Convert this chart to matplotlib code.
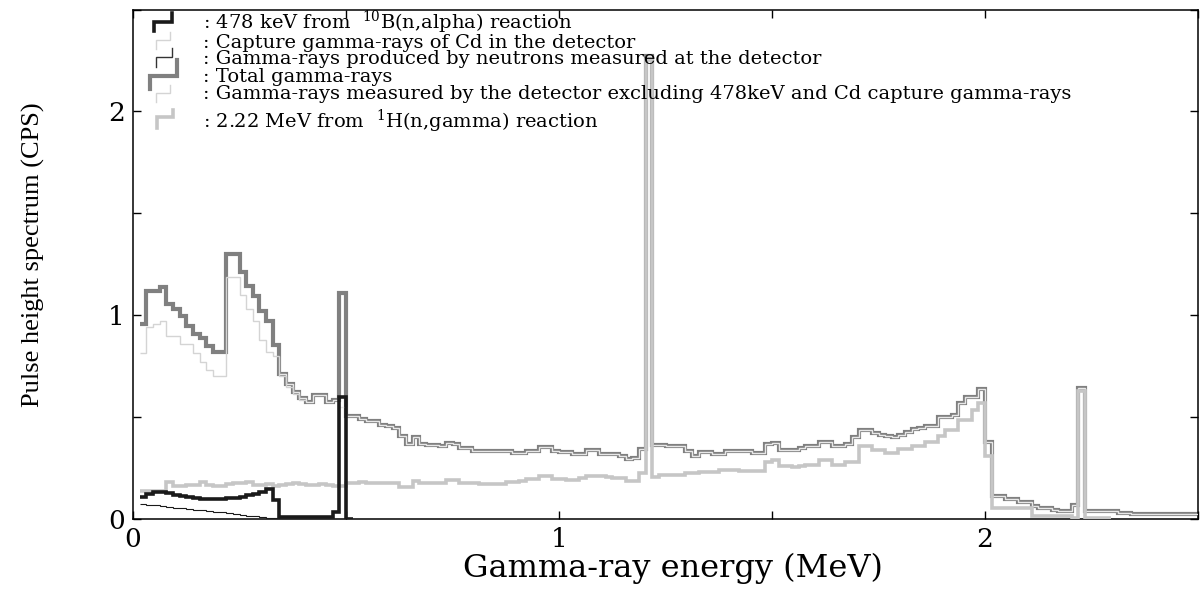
import numpy as np
import matplotlib
matplotlib.use('Agg')
import matplotlib.pyplot as plt
from matplotlib.lines import Line2D

plt.rcParams['font.family'] = ['DejaVu Serif']
plt.rcParams['mathtext.fontset'] = 'dejavuserif'

# =============================================================================
# data: counts per channel (CPS), channel width 1/64 MeV, series start at ch 1
# =============================================================================
BIN_WIDTH = 1.0 / 64
FIRST_BIN = 1

# total gamma-rays (thick gray), channels 1..159
total_gamma = [
    0.955, 1.12, 1.12, 1.14, 1.055, 1.03, 0.995, 0.947, 0.91, 0.89,
    0.847, 0.82, 0.82, 1.30, 1.30, 1.21, 1.145, 1.095, 1.02, 0.97,
    0.856, 0.71, 0.66, 0.625, 0.594, 0.574, 0.61, 0.61, 0.574, 0.584,
    1.11, 0.507, 0.507, 0.49, 0.479, 0.479, 0.463, 0.455, 0.448, 0.405,
    0.369, 0.40, 0.366, 0.364, 0.362, 0.36, 0.374, 0.37, 0.35, 0.35,
    0.335, 0.332, 0.332, 0.333, 0.334, 0.332, 0.325, 0.325, 0.335, 0.335,
    0.351, 0.351, 0.332, 0.327, 0.327, 0.32, 0.32, 0.34, 0.34, 0.32,
    0.32, 0.32, 0.307, 0.295, 0.30, 0.345, 2.27, 0.364, 0.364, 0.36,
    0.356, 0.356, 0.332, 0.31, 0.327, 0.327, 0.32, 0.32, 0.332, 0.332,
    0.335, 0.335, 0.322, 0.322, 0.37, 0.373, 0.34, 0.34, 0.34, 0.35,
    0.36, 0.36, 0.38, 0.38, 0.356, 0.356, 0.369, 0.40, 0.438, 0.438,
    0.42, 0.414, 0.405, 0.40, 0.414, 0.425, 0.44, 0.448, 0.458, 0.458,
    0.502, 0.502, 0.512, 0.567, 0.60, 0.60, 0.64, 0.38, 0.113, 0.113,
    0.098, 0.098, 0.081, 0.081, 0.064, 0.056, 0.056, 0.045, 0.04, 0.04,
    0.069, 0.645, 0.04, 0.04, 0.04, 0.04, 0.04, 0.03, 0.03, 0.025,
    0.025, 0.025, 0.025, 0.025, 0.025, 0.025, 0.025, 0.025, 0.025,
]

# 2.22 MeV from 1H(n,gamma) (thick light gray), channels 1..146
h_capture = [
    0.135, 0.135, 0.135, 0.135, 0.184, 0.16, 0.16, 0.165, 0.165, 0.184,
    0.165, 0.16, 0.16, 0.17, 0.175, 0.175, 0.18, 0.165, 0.165, 0.17,
    0.16, 0.165, 0.17, 0.175, 0.17, 0.165, 0.165, 0.17, 0.165, 0.16,
    0.16, 0.175, 0.179, 0.18, 0.177, 0.175, 0.175, 0.177, 0.177, 0.159,
    0.159, 0.187, 0.177, 0.177, 0.175, 0.175, 0.192, 0.192, 0.179, 0.179,
    0.179, 0.173, 0.173, 0.173, 0.173, 0.18, 0.182, 0.185, 0.195, 0.197,
    0.212, 0.212, 0.197, 0.195, 0.192, 0.19, 0.20, 0.212, 0.212, 0.21,
    0.205, 0.20, 0.20, 0.187, 0.187, 0.228, 2.25, 0.208, 0.215, 0.217,
    0.217, 0.217, 0.228, 0.228, 0.233, 0.233, 0.233, 0.241, 0.241, 0.241,
    0.237, 0.237, 0.237, 0.237, 0.282, 0.29, 0.258, 0.258, 0.255, 0.26,
    0.265, 0.265, 0.29, 0.29, 0.265, 0.265, 0.282, 0.282, 0.356, 0.356,
    0.34, 0.34, 0.325, 0.325, 0.345, 0.345, 0.36, 0.36, 0.38, 0.38,
    0.405, 0.435, 0.435, 0.488, 0.488, 0.537, 0.571, 0.31, 0.056, 0.056,
    0.056, 0.056, 0.056, 0.056, 0.017, 0.017, 0.017, 0.017, 0.017, 0.017,
    0.004, 0.63, 0.004, 0.004, 0.004, 0.004,
]

# capture gamma-rays of Cd in the detector (thin light), channels 1..25
cd_capture = [
    0.813, 0.94, 0.955, 0.97, 0.898, 0.898, 0.857, 0.857, 0.816, 0.768,
    0.73, 0.70, 0.70, 1.185, 1.185, 1.10, 1.03, 0.97, 0.88, 0.817,
    0.80, 0.70, 0.65, 0.615, 0.585,
]

# 478 keV from 10B(n,alpha) (thick black), channels 1..32
b10_peak = [
    0.11, 0.125, 0.132, 0.134, 0.128, 0.12, 0.115, 0.11, 0.105, 0.10,
    0.10, 0.10, 0.10, 0.102, 0.105, 0.11, 0.118, 0.125, 0.134, 0.145,
    0.092, 0.012, 0.01, 0.01, 0.01, 0.01, 0.01, 0.01, 0.01, 0.032,
    0.60, 0.0,
]

# gamma-rays produced by neutrons (thin dark), channels 1..22
neutron_gamma = [
    0.074, 0.071, 0.067, 0.063, 0.06, 0.056, 0.052, 0.049, 0.045, 0.042,
    0.038, 0.035, 0.032, 0.029, 0.025, 0.021, 0.017, 0.013, 0.01, 0.007,
    0.004, 0.002,
]

# excluding 478 keV and Cd: follows the total from channel 22 on,
# except under the 478 keV peak
EXCL_START = 22
B10_PEAK_BIN = 31
EXCL_AT_478 = 0.55

legend_labels = [
    r': 478 keV from  $^{10}$B(n,alpha) reaction',
    ': Capture gamma-rays of Cd in the detector',
    ': Gamma-rays produced by neutrons measured at the detector',
    ': Total gamma-rays',
    ': Gamma-rays measured by the detector excluding 478keV and Cd capture gamma-rays',
    r': 2.22 MeV from  $^{1}$H(n,gamma) reaction',
]

# styles
C_TOTAL = '#808080'
C_LIGHT = '#c6c6c6'
C_THIN_LIGHT = '#d4d4d4'
C_OVERLAY = '#e8e8e8'
C_BLACK = '#1a1a1a'


def draw_stairs(ax, values, first_bin, **kw):
    vals = np.asarray(values, dtype=float)
    edges = (first_bin + np.arange(len(vals) + 1)) * BIN_WIDTH
    return ax.stairs(vals, edges, baseline=None, **kw)


W, H = 1203, 592
fig = plt.figure(figsize=(W / 100, H / 100), dpi=100)
ax = fig.add_axes([133 / W, 1 - 519 / H, 1065 / W, 509.5 / H])

draw_stairs(ax, total_gamma, FIRST_BIN, color=C_TOTAL, lw=3.0, zorder=2)
excl = np.array(total_gamma[EXCL_START - FIRST_BIN:])
excl[B10_PEAK_BIN - EXCL_START] = EXCL_AT_478
draw_stairs(ax, excl, EXCL_START, color=C_OVERLAY, lw=1.0, zorder=3)
draw_stairs(ax, cd_capture, FIRST_BIN, color=C_THIN_LIGHT, lw=1.0, zorder=3)
draw_stairs(ax, h_capture, FIRST_BIN, color=C_LIGHT, lw=2.6, zorder=4)
draw_stairs(ax, neutron_gamma, FIRST_BIN, color=C_BLACK, lw=0.8, zorder=5)
draw_stairs(ax, b10_peak, FIRST_BIN, color=C_BLACK, lw=2.6, zorder=6)

ax.set_xlim(0, 2.5)
ax.set_ylim(0, 2.5)
ax.set_xticks([0, 0.5, 1, 1.5, 2, 2.5])
ax.set_xticklabels(['0', '', '1', '', '2', ''])
ax.set_yticks([0, 0.5, 1, 1.5, 2, 2.5])
ax.set_yticklabels(['0', '', '1', '', '2', ''])
ax.tick_params(direction='in', length=6, width=1.0, top=True, right=True,
               labelsize=19)
ax.tick_params(axis='x', pad=6)
ax.tick_params(axis='y', pad=6)
for sp in ax.spines.values():
    sp.set_linewidth(1.1)

ax.set_xlabel('Gamma-ray energy (MeV)', fontsize=23)
ax.xaxis.set_label_coords(0.507, -0.066)
ax.set_ylabel('Pulse height spectrum (CPS)', fontsize=19,
              family=['Liberation Serif', 'DejaVu Serif'])
ax.yaxis.set_label_coords(-0.083, 0.518)

# ── hand-made legend: step glyph + text per row (pixel layout) ──
glyph_rows = [  # x_left, x_right, y_mid, y_low, y_high, baseline
    (154, 172, 22, 31, 13, 29),
    (156, 170, 40, 49, 32, 48),
    (156, 172, 57, 67, 48, 64.5),
    (150, 177, 76, 89, 60, 82.5),
    (156, 170, 93, 102, 85, 99),
    (157, 173, 117, 128, 110, 128),
]
glyph_styles = [
    dict(color=C_BLACK, lw=2.6),
    dict(color=C_THIN_LIGHT, lw=1.0),
    dict(color='#333333', lw=1.0),
    dict(color=C_TOTAL, lw=3.0),
    dict(color=C_THIN_LIGHT, lw=1.0),
    dict(color=C_LIGHT, lw=2.6),
]
for (xl, xr, ym, ylo, yhi, base), st, label in zip(glyph_rows, glyph_styles,
                                                    legend_labels):
    xs = np.array([xl, xl, xr, xr]) / W
    ys = 1 - np.array([ylo, ym, ym, yhi]) / H
    fig.add_artist(Line2D(xs, ys, transform=fig.transFigure,
                          solid_joinstyle='miter', **st))
    fig.text(203 / W, 1 - base / H, label, fontsize=14, va='baseline',
             ha='left')

fig.savefig('out.png', dpi=100)
